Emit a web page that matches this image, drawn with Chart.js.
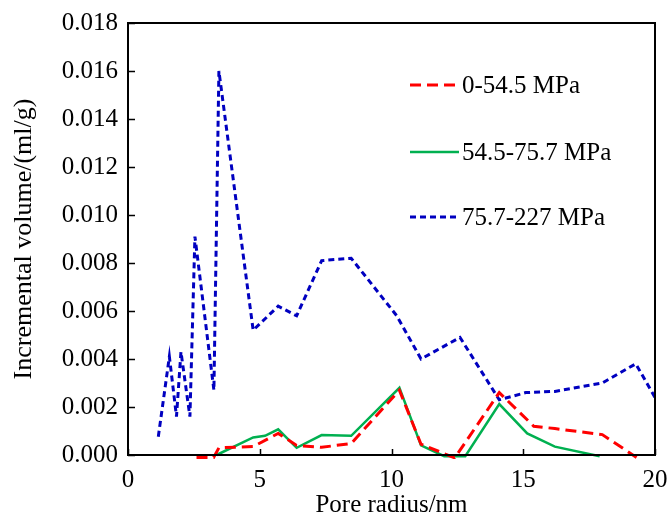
<!DOCTYPE html>
<html>
<head>
<meta charset="utf-8">
<script src="https://cdn.jsdelivr.net/npm/chart.js@4.4.1/dist/chart.umd.min.js"></script>
<style>
  html, body { margin: 0; padding: 0; background: #fff; }
  #wrap { width: 667px; height: 520px; position: relative; }
</style>
</head>
<body>
<div id="wrap"><canvas id="c" width="667" height="520"></canvas></div>
<script>
// ---- Data ----
const seriesLabels = ['0-54.5 MPa', '54.5-75.7 MPa', '75.7-227 MPa'];

const redX = [2.6, 3.25, 3.45, 4.75, 5.7, 6.4, 7.35, 8.47, 10.3, 11.12, 12.4, 14.09, 15.4, 16.2, 18.0, 19.3];
const redY = [-0.0001, -0.0001, 0.0003, 0.00035, 0.0009, 0.0004, 0.00032, 0.00048, 0.0027, 0.00045, -0.00012, 0.0026, 0.0012, 0.0011, 0.00085, -0.0001];

const greenX = [3.36, 4.75, 5.2, 5.7, 6.4, 7.35, 8.47, 10.3, 11.12, 12.0, 12.8, 14.09, 15.15, 16.2, 17.9];
const greenY = [0, 0.00073, 0.0008, 0.00107, 0.0003, 0.00083, 0.0008, 0.0028, 0.0004, -0.00005, -0.00005, 0.00212, 0.0009, 0.00035, -0.00005];

const blueX = [1.15, 1.57, 1.84, 2.01, 2.35, 2.54, 3.26, 3.45, 4.75, 5.7, 6.4, 7.35, 8.47, 10.2, 11.12, 12.6, 14.09, 15.1, 16.2, 18.0, 19.27, 20.0];
const blueY = [0.00076, 0.0041, 0.0016, 0.0043, 0.0016, 0.0091, 0.0027, 0.0160, 0.0052, 0.0062, 0.0058, 0.0081, 0.0082, 0.0058, 0.0040, 0.0049, 0.0023, 0.0026, 0.00265, 0.0030, 0.0038, 0.0024];

const xTickValues = [0, 5, 10, 15, 20];
const yTickValues = [0, 0.002, 0.004, 0.006, 0.008, 0.010, 0.012, 0.014, 0.016, 0.018];
const xTitle = 'Pore radius/nm';
const yTitle = 'Incremental volume/(ml/g)';

// ---- Build chart ----
const toPts = (xs, ys) => xs.map((x, i) => ({ x: x, y: ys[i] }));
const FONT = 'Liberation Serif, "Times New Roman", serif';

const frameLegend = {
  id: 'frameLegend',
  afterDraw(chart) {
    const { ctx, chartArea: a, scales: { x, y } } = chart;
    ctx.save();
    ctx.strokeStyle = '#000';
    ctx.lineWidth = 2;
    ctx.setLineDash([]);
    ctx.strokeRect(a.left, a.top, a.width, a.height);
    ctx.lineWidth = 1.5;
    ctx.beginPath();
    y.ticks.forEach(t => {
      const py = Math.round(y.getPixelForValue(t.value)) + 0.5;
      ctx.moveTo(a.left, py); ctx.lineTo(a.left + 7, py);
    });
    x.ticks.forEach(t => {
      const px = Math.round(x.getPixelForValue(t.value)) + 0.5;
      ctx.moveTo(px, a.bottom); ctx.lineTo(px, a.bottom - 6);
    });
    ctx.stroke();
    // legend
    const rows = [85, 152, 217];
    chart.data.datasets.forEach((ds, i) => {
      const yy = rows[i];
      ctx.beginPath();
      ctx.strokeStyle = ds.borderColor;
      ctx.lineWidth = ds.borderWidth;
      ctx.setLineDash(ds.borderDash || []);
      ctx.moveTo(410, yy); ctx.lineTo(459, yy);
      ctx.stroke();
      ctx.setLineDash([]);
      ctx.fillStyle = '#000';
      ctx.font = '25px ' + FONT;
      ctx.textBaseline = 'middle';
      ctx.textAlign = 'left';
      ctx.fillText(ds.label, 462, yy + 1);
    });
    ctx.restore();
  }
};

new Chart(document.getElementById('c'), {
  type: 'line',
  data: {
    datasets: [
      { label: seriesLabels[0], data: toPts(redX, redY), borderColor: '#FF0000', borderWidth: 3, borderDash: [11, 6], pointRadius: 0, tension: 0, clip: 4 },
      { label: seriesLabels[1], data: toPts(greenX, greenY), borderColor: '#00B050', borderWidth: 2.5, pointRadius: 0, tension: 0, clip: 4 },
      { label: seriesLabels[2], data: toPts(blueX, blueY), borderColor: '#0000C0', borderWidth: 3, borderDash: [6, 4], pointRadius: 0, tension: 0, clip: 4 }
    ]
  },
  options: {
    responsive: false,
    animation: false,
    layout: { autoPadding: false, padding: { left: 0, right: 12, top: 23, bottom: 0 } },
    plugins: { legend: { display: false }, tooltip: { enabled: false } },
    scales: {
      x: {
        type: 'linear', min: 0, max: 20,
        afterFit(s) { s.height = 65; s.paddingLeft = 0; s.paddingRight = 0; },
        afterBuildTicks(s) { s.ticks = xTickValues.map(v => ({ value: v })); },
        grid: { display: false, drawTicks: false },
        border: { display: false },
        ticks: { color: '#000', padding: 10, font: { family: FONT, size: 25 }, maxRotation: 0 },
        title: { display: true, text: xTitle, color: '#000', font: { family: FONT, size: 25 }, padding: { top: 0, bottom: 0 } }
      },
      y: {
        type: 'linear', min: 0, max: 0.018,
        afterFit(s) { s.width = 128; s.paddingTop = 0; s.paddingBottom = 0; },
        afterBuildTicks(s) { s.ticks = yTickValues.map(v => ({ value: v })); },
        grid: { display: false, drawTicks: false },
        border: { display: false },
        ticks: { color: '#000', padding: 10, font: { family: FONT, size: 25 }, callback: v => Number(v).toFixed(3) },
        title: { display: true, text: yTitle, color: '#000', font: { family: FONT, size: 26 }, padding: { top: 9, bottom: 0 } }
      }
    }
  },
  plugins: [frameLegend]
});
</script>
</body>
</html>
